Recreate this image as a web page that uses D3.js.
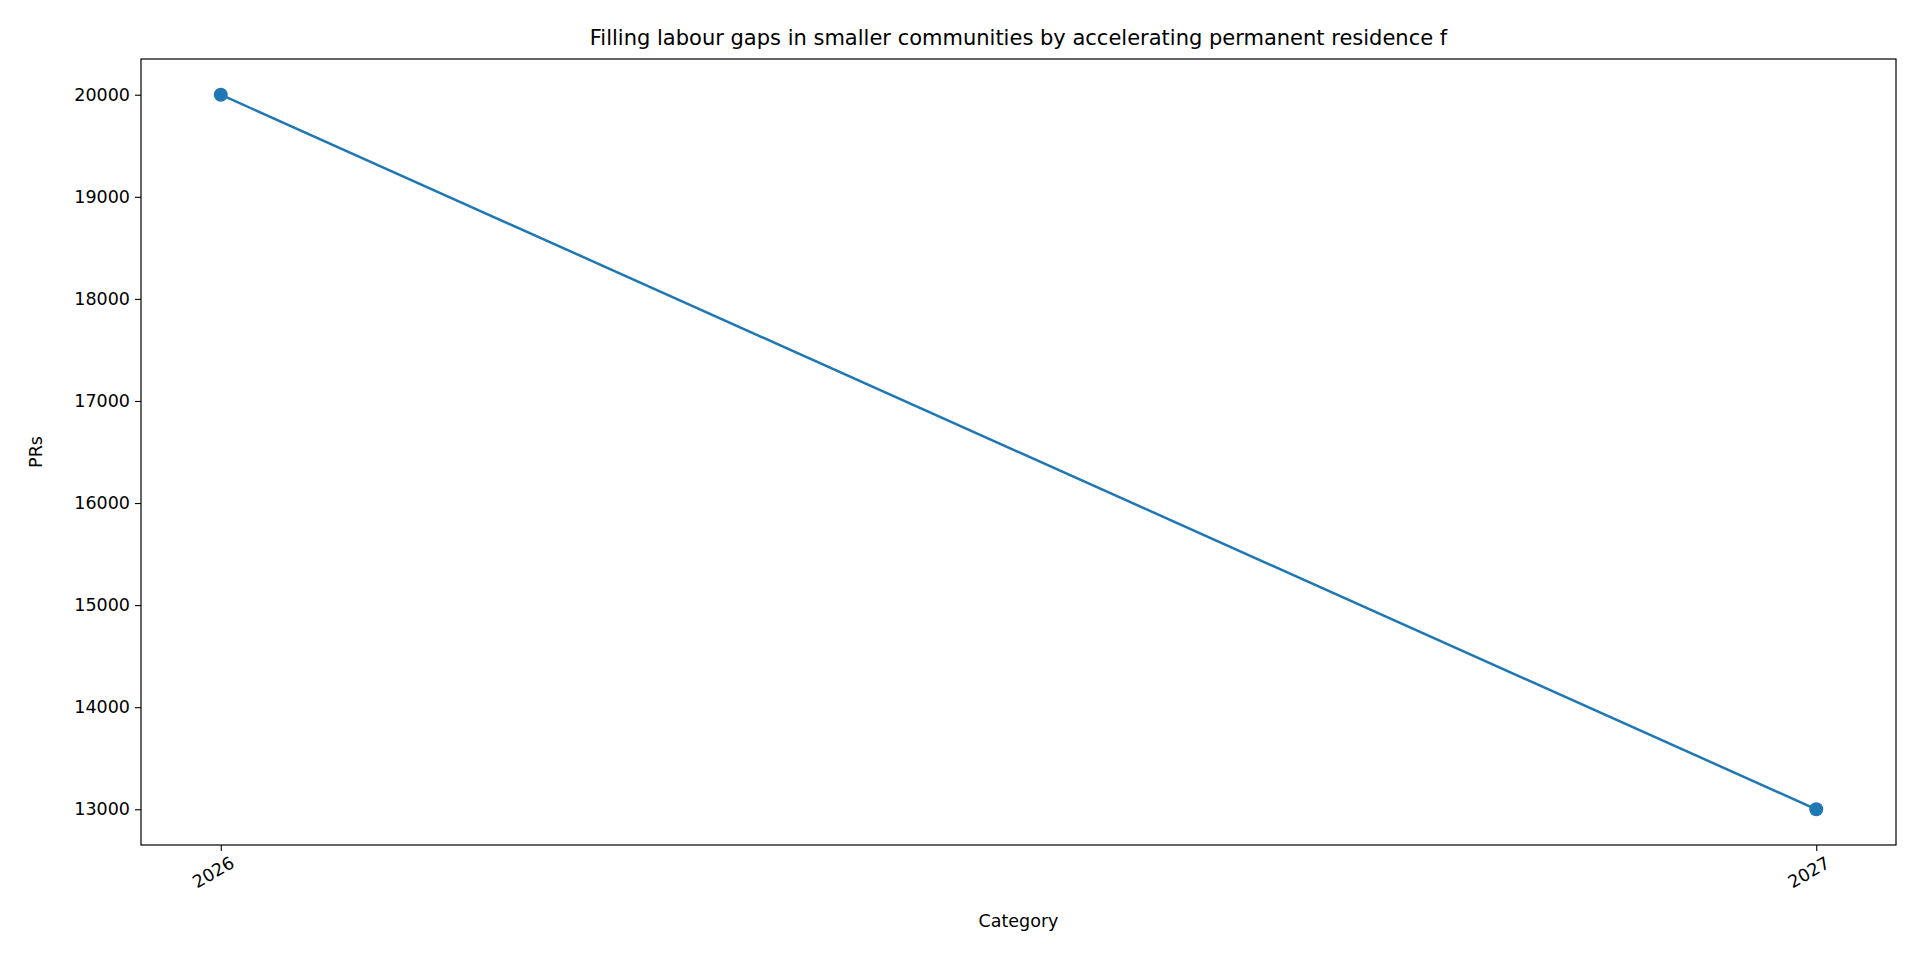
<!DOCTYPE html>
<html><head><meta charset="utf-8">
<script src="https://cdn.jsdelivr.net/npm/d3@7"></script>
<style>body{margin:0;background:#fff}svg{display:block}svg text{font-family:"DejaVu Sans",sans-serif}</style>
</head><body><svg id="c" width="1920" height="960"></svg>
<script>
const categories = ["2026", "2027"];
const values = [20000, 13000];
const yTicks = [13000, 14000, 15000, 16000, 17000, 18000, 19000, 20000];
const title = "Filling labour gaps in smaller communities by accelerating permanent residence f";

const svg = d3.select("#c");
const L = 141, R = 1896, T = 59, B = 845;
const x = d3.scaleLinear().domain([-0.05, 1.05]).range([L, R]);
const yMin = 13000 - 350, yMax = 20000 + 350;
const y = d3.scaleLinear().domain([yMin, yMax]).range([B, T]);

const xa = svg.append("g").attr("transform", `translate(0,${B})`)
  .call(d3.axisBottom(x).tickValues([0, 1]).tickFormat(i => categories[i]).tickSize(6).tickPadding(4));
xa.attr("font-family", null);
xa.selectAll("text").attr("font-size", 17.5).attr("fill", "#000").attr("text-anchor", "end")
  .attr("transform", "rotate(-30)").attr("dx", "0.1em").attr("dy", "0.9em");
const ya = svg.append("g").attr("transform", `translate(${L},0)`)
  .call(d3.axisLeft(y).tickValues(yTicks).tickFormat(d3.format("d")).tickSize(6).tickPadding(5));
ya.attr("font-family", null);
ya.selectAll("text").attr("font-size", 17.5).attr("fill", "#000");
svg.selectAll(".domain").remove();
svg.selectAll(".tick line").attr("stroke", "#000").attr("stroke-width", 1.1);

svg.append("rect").attr("x", L).attr("y", T).attr("width", R - L).attr("height", B - T)
  .attr("fill", "none").attr("stroke", "#000").attr("stroke-width", 1.2);

const line = d3.line().x((d, i) => x(i)).y(d => y(d));
svg.append("path").datum(values).attr("d", line).attr("fill", "none")
  .attr("stroke", "#1f77b4").attr("stroke-width", 2.5);
svg.selectAll("circle.p").data(values).join("circle").attr("class", "p")
  .attr("cx", (d, i) => x(i)).attr("cy", d => y(d)).attr("r", 7).attr("fill", "#1f77b4");

svg.append("text").attr("x", (L + R) / 2).attr("y", 45).attr("text-anchor", "middle")
  .attr("font-size", 21).text(title);
svg.append("text").attr("x", (L + R) / 2).attr("y", 927).attr("text-anchor", "middle")
  .attr("font-size", 17.5).text("Category");
svg.append("text").attr("transform", `translate(42,${(T + B) / 2}) rotate(-90)`)
  .attr("text-anchor", "middle").attr("font-size", 17.5).text("PRs");
</script></body></html>
